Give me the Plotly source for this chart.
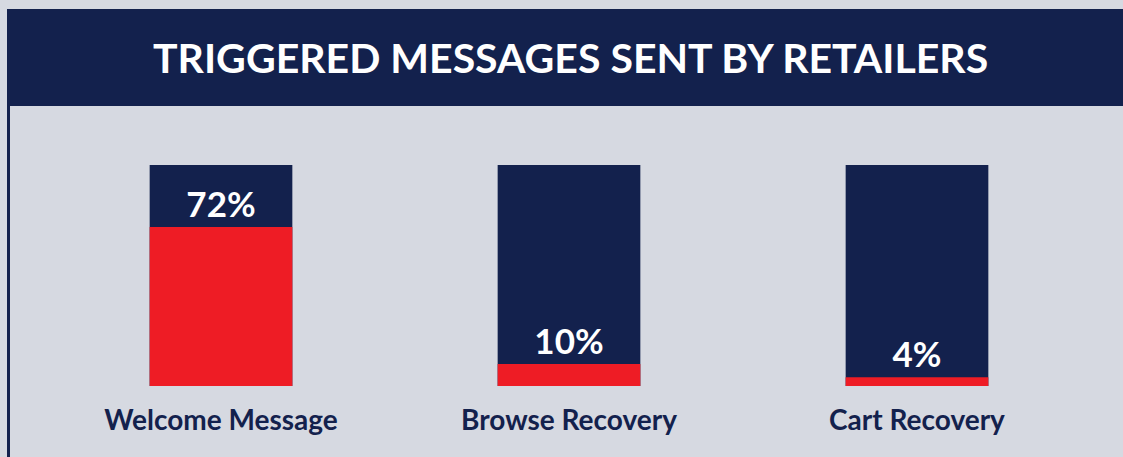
import plotly.graph_objects as go

categories = ["Welcome Message", "Browse Recovery", "Cart Recovery"]
values = [72, 10, 4]
full = [100, 100, 100]
labels = [f"{v}%" for v in values]

NAVY = "#13214d"
RED = "#ee1c25"
BG = "#d6d9e1"

W, H = 1123, 457
L, R, T, B = 47, 32, 165, 71
pw, ph = W - L - R, H - T - B

def px(x):
    return (x - L) / pw

def py(y):
    return (H - B - y) / ph

fig = go.Figure()
fig.add_trace(go.Bar(x=categories, y=full, marker=dict(color=NAVY, line=dict(width=0)),
                     width=0.41, hoverinfo="skip", showlegend=False))
fig.add_trace(go.Bar(x=categories, y=values, marker=dict(color=RED, line=dict(width=0)),
                     width=0.41, text=labels, textposition="outside", cliponaxis=False,
                     textfont=dict(family="Lato", size=35, color="white", weight="bold"),
                     showlegend=False))

fig.update_layout(
    width=W, height=H,
    margin=dict(l=L, r=R, t=T, b=B),
    paper_bgcolor=BG, plot_bgcolor="rgba(0,0,0,0)",
    barmode="overlay",
    xaxis=dict(showgrid=False, zeroline=False, showline=False, ticks="",
               tickfont=dict(family="Lato", size=28, color=NAVY, weight="bold"),
               ticklabelstandoff=15),
    yaxis=dict(range=[0, 100], visible=False, showgrid=False),
    shapes=[
        dict(type="rect", xref="paper", yref="paper", x0=px(7), x1=px(1130),
             y0=py(106), y1=py(9), fillcolor=NAVY, line=dict(width=0), layer="below"),
        dict(type="line", xref="paper", yref="paper", x0=px(8.5), x1=px(8.5),
             y0=py(470), y1=py(9), line=dict(color=NAVY, width=3), layer="below"),
    ],
    annotations=[
        dict(text="<b>TRIGGERED MESSAGES SENT BY RETAILERS</b>", xref="paper", yref="paper",
             x=px(570), y=py(58), showarrow=False, xanchor="center", yanchor="middle",
             font=dict(family="Lato", size=41, color="white")),
    ],
)

fig.write_html("out.html", config={"displayModeBar": False},
               post_script="document.body.style.margin='0';")
